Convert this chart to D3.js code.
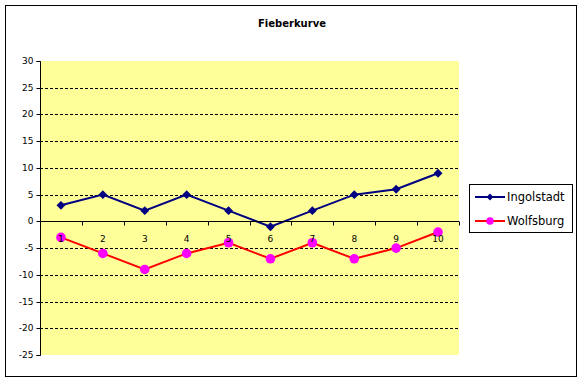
<!DOCTYPE html>
<html><head><meta charset="utf-8">
<script src="https://cdn.jsdelivr.net/npm/d3@7"></script>
<style>body{margin:0;background:#fff}svg{display:block}text{font-family:"DejaVu Sans",sans-serif}</style>
</head><body><svg id="c" width="582" height="381"></svg>
<script>
const categories = ["1","2","3","4","5","6","7","8","9","10"];
const ingolstadt = [3,5,2,5,2,-1,2,5,6,9];
const wolfsburg = [-3,-6,-9,-6,-4,-7,-4,-7,-5,-2];
const yTicks = [30,25,20,15,10,5,0,-5,-10,-15,-20,-25];
const seriesNames = ["Ingolstadt","Wolfsburg"];

const svg = d3.select("#c");
svg.append("rect").attr("x",5.5).attr("y",5.5).attr("width",571).attr("height",371)
  .attr("fill","#fff").attr("stroke","#000").attr("stroke-width",1);

const L=40, R=459, T=61, B=355;
const x = d3.scaleBand().domain(categories).range([L,R]);
const y = d3.scaleLinear().domain([-25,30]).range([B,T]);

svg.append("rect").attr("x",L).attr("y",T).attr("width",R-L).attr("height",B-T).attr("fill","#FFFF99");

// gridlines
svg.append("g").selectAll("line").data(yTicks.filter(v=>v!==30&&v!==-25&&v!==0)).join("line")
  .attr("x1",L).attr("x2",R).attr("y1",d=>Math.round(y(d))+0.5).attr("y2",d=>Math.round(y(d))+0.5)
  .attr("stroke","#000").attr("stroke-dasharray","3,2").attr("stroke-width",1);

// y axis
const ya = svg.append("g").attr("transform",`translate(${L+0.5},0)`)
  .call(d3.axisLeft(y).tickValues(yTicks).tickSize(4).tickPadding(3).tickFormat(d=>String(d)));
ya.select(".domain").attr("d",`M-4,${Math.round(y(30))+0.5}H0V${Math.round(y(-25))+0.5}H-4`).attr("stroke","#000");
ya.selectAll(".tick").attr("transform",d=>`translate(0,${Math.round(y(d))+0.5})`);
ya.selectAll("text").attr("font-size",9).attr("font-family","DejaVu Sans").attr("fill","#000");
ya.selectAll("line").attr("stroke","#000");

// series
const line = d3.line().x((d,i)=>x(categories[i])+x.bandwidth()/2).y(d=>y(d));
svg.append("path").datum(ingolstadt).attr("d",line).attr("fill","none").attr("stroke","#000080").attr("stroke-width",2);
svg.append("path").datum(wolfsburg).attr("d",line).attr("fill","none").attr("stroke","#FF0000").attr("stroke-width",2);

const diamond = d3.symbol().type(d3.symbolDiamond2).size(50);
svg.append("g").selectAll("path").data(ingolstadt).join("path")
  .attr("d",diamond).attr("fill","#000080")
  .attr("transform",(d,i)=>`translate(${x(categories[i])+x.bandwidth()/2},${y(d)})`);
svg.append("g").selectAll("circle").data(wolfsburg).join("circle")
  .attr("cx",(d,i)=>x(categories[i])+x.bandwidth()/2).attr("cy",d=>y(d)).attr("r",4.8).attr("fill","#FF00FF");

// x axis at zero
const y0 = Math.round(y(0))+0.5;
const xa = svg.append("g").attr("transform",`translate(0,${y0})`);
xa.append("line").attr("x1",L).attr("x2",R).attr("stroke","#000");
const bounds = d3.range(categories.length+1).map(i=>L+i*x.step());
xa.selectAll("line.t").data(bounds.slice(1)).join("line").attr("class","t")
  .attr("x1",d=>Math.round(d)+0.5).attr("x2",d=>Math.round(d)+0.5).attr("y1",0).attr("y2",4).attr("stroke","#000");
xa.selectAll("text").data(categories).join("text")
  .attr("x",d=>x(d)+x.bandwidth()/2).attr("y",20).attr("text-anchor","middle")
  .attr("font-size",9).attr("fill","#000").text(d=>d);

// title
svg.append("text").attr("x",292).attr("y",27).attr("text-anchor","middle")
  .attr("font-size",10).attr("font-weight","bold").text("Fieberkurve");

// legend
const lg = svg.append("g");
lg.append("rect").attr("x",469.5).attr("y",184.5).attr("width",103).attr("height",48)
  .attr("fill","#fff").attr("stroke","#000");
const rows=[197,221];
const colors=["#000080","#FF0000"], mcol=["#000080","#FF00FF"];
seriesNames.forEach((n,i)=>{
  lg.append("line").attr("x1",475).attr("x2",505).attr("y1",rows[i]).attr("y2",rows[i]).attr("stroke",colors[i]).attr("stroke-width",2);
  if(i===0) lg.append("path").attr("d",d3.symbol().type(d3.symbolDiamond2).size(30)).attr("fill",mcol[i]).attr("transform",`translate(490,${rows[i]})`);
  else lg.append("circle").attr("cx",490).attr("cy",rows[i]).attr("r",3.8).attr("fill",mcol[i]);
  lg.append("text").attr("x",507).attr("y",rows[i]+4).attr("font-size",11.5).attr("fill","#000").text(n);
});
</script></body></html>
